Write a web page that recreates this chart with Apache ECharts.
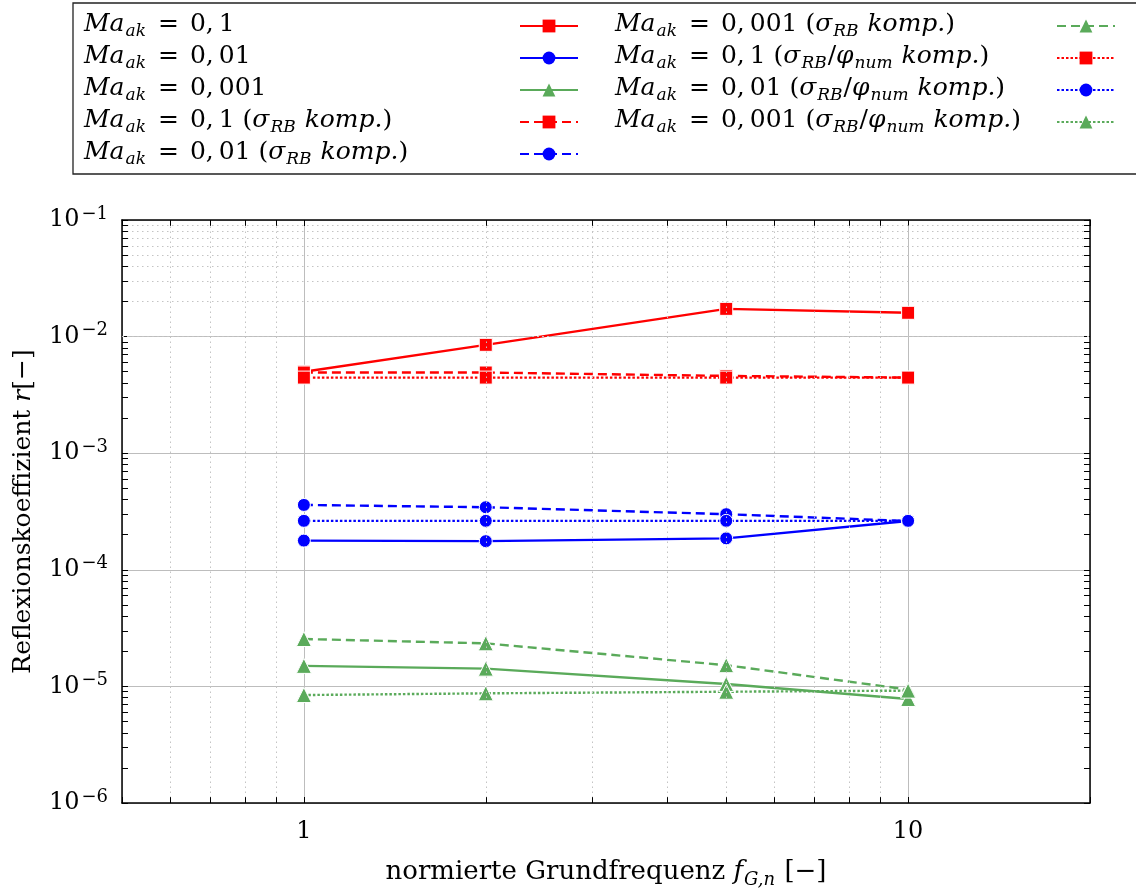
<!DOCTYPE html>
<html><head><meta charset="utf-8">
<script src="https://cdn.jsdelivr.net/npm/echarts@6/dist/echarts.min.js"></script>
<style>html,body{margin:0;padding:0;background:#fff}#c{width:1136px;height:894px}</style>
</head><body><div id="c"></div>
<script>
// ---- data ----
const xVals = [1, 2, 5, 10];
const ma01 = [5.0e-3, 8.5e-3, 1.73e-2, 1.6e-2];
const ma001 = [1.78e-4, 1.76e-4, 1.86e-4, 2.62e-4];
const ma0001 = [1.5e-5, 1.42e-5, 1.05e-5, 7.8e-6];
const ma01RB = [4.92e-3, 4.92e-3, 4.6e-3, 4.45e-3];
const ma001RB = [3.6e-4, 3.44e-4, 3.0e-4, 2.62e-4];
const ma0001RB = [2.55e-5, 2.34e-5, 1.52e-5, 9.4e-6];
const ma01Phi = [4.45e-3, 4.45e-3, 4.45e-3, 4.45e-3];
const ma001Phi = [2.63e-4, 2.63e-4, 2.63e-4, 2.63e-4];
const ma0001Phi = [8.43e-6, 8.72e-6, 9.0e-6, 9.2e-6];
const seriesNames = [
  'Ma_ak = 0,1', 'Ma_ak = 0,01', 'Ma_ak = 0,001',
  'Ma_ak = 0,1 (σRB komp.)', 'Ma_ak = 0,01 (σRB komp.)', 'Ma_ak = 0,001 (σRB komp.)',
  'Ma_ak = 0,1 (σRB/φnum komp.)', 'Ma_ak = 0,01 (σRB/φnum komp.)', 'Ma_ak = 0,001 (σRB/φnum komp.)'
];
const xMinorVals = [0.6, 0.7, 0.8, 0.9, 2, 3, 4, 5, 6, 7, 8, 9];
const yDecades = [-6, -5, -4, -3, -2];
const yMinorMult = [2, 3, 4, 5, 6, 7, 8, 9];
const xMin = 0.5, xMax = 20, yMin = 1e-6, yMax = 1e-1;

// ---- styling ----
const FF = 'DejaVu Serif';
const FS = 25, FSS = 17;
const RED = '#ff0000', BLUE = '#0000ff', GREEN = '#5aaa5a';
const dashed = [9, 5], dotted = [2.5, 2];
const allData = [ma01, ma001, ma0001, ma01RB, ma001RB, ma0001RB, ma01Phi, ma001Phi, ma0001Phi];
const colors = [RED, BLUE, GREEN, RED, BLUE, GREEN, RED, BLUE, GREEN];
const symbols = ['rect', 'circle', 'triangle', 'rect', 'circle', 'triangle', 'rect', 'circle', 'triangle'];
const symSizes = [13, 13, 15, 13, 13, 15, 13, 13, 15];
const lineTypes = ['solid', 'solid', 'solid', dashed, dashed, dashed, dotted, dotted, dotted];

const maPart = ['0,\u20091', '0,\u200901', '0,\u2009001'];
function richName(i) {
  const g = i % 3, k = Math.floor(i / 3);
  let s = '{it|Ma}{sub|ak}{eq|=}{n|' + maPart[g] + '}';
  if (k === 1) s += '{n| (}{it|σ}{sub|RB}{it| komp.}{n|)}';
  if (k === 2) s += '{n| (}{it|σ}{sub|RB}{n|/}{it|φ}{sub|num}{it| komp.}{n|)}';
  return s;
}
const nameMap = {};
seriesNames.forEach((n, i) => nameMap[n] = richName(i));

const richLegend = {
  n: { fontFamily: FF, fontSize: FS, align: 'left', verticalAlign: 'top', color: '#000' },
  eq: { fontFamily: FF, fontSize: FS, align: 'left', verticalAlign: 'top', color: '#000', padding: [0, 11, 0, 11] },
  it: { fontFamily: FF, fontSize: FS, fontStyle: 'italic', align: 'left', verticalAlign: 'top', color: '#000' },
  sub: { fontFamily: FF, fontSize: FSS, fontStyle: 'italic', align: 'left', verticalAlign: 'top', padding: [11, 1, 0, 1], color: '#000' }
};

const series = allData.map((d, i) => ({
  name: seriesNames[i],
  type: 'line',
  data: xVals.map((x, j) => [x, d[j]]),
  symbol: symbols[i],
  symbolSize: symSizes[i],
  color: colors[i],
  lineStyle: { color: colors[i], width: 2.4, type: lineTypes[i] },
  itemStyle: { color: colors[i], borderColor: '#fff', borderWidth: 1 },
  emphasis: { disabled: true },
  z: 3
}));

// minor grid lines
const gridLines = [];
xMinorVals.forEach(v => gridLines.push({ xAxis: v }));
yDecades.forEach(e => yMinorMult.forEach(m => gridLines.push({ yAxis: m * Math.pow(10, e) })));
series.push({
  type: 'line', data: [], z: 1, silent: true, symbol: 'none',
  markLine: {
    silent: true, symbol: ['none', 'none'], label: { show: false }, animation: false,
    emphasis: { disabled: true },
    lineStyle: { color: '#c4c4c4', type: [1.5, 3.5], width: 1 },
    data: gridLines
  }
});
// minor ticks on all four sides
const tickLen = 0.05, xTickLen = 6 / 604;
const ticks = [];
xMinorVals.forEach(v => {
  ticks.push([{ coord: [v, yMin] }, { coord: [v, yMin * Math.pow(10, tickLen)] }]);
  ticks.push([{ coord: [v, yMax] }, { coord: [v, yMax / Math.pow(10, tickLen)] }]);
});
yDecades.forEach(e => yMinorMult.forEach(m => {
  const v = m * Math.pow(10, e);
  ticks.push([{ coord: [xMin, v] }, { coord: [xMin * Math.pow(10, xTickLen), v] }]);
  ticks.push([{ coord: [xMax, v] }, { coord: [xMax / Math.pow(10, xTickLen), v] }]);
}));
series.push({
  type: 'line', data: [], z: 4, silent: true, symbol: 'none',
  markLine: {
    silent: true, symbol: ['none', 'none'], label: { show: false }, animation: false,
    emphasis: { disabled: true },
    lineStyle: { color: '#000', type: 'solid', width: 1 },
    data: ticks
  }
});

const axisCommonX = {
  type: 'log', logBase: 10, min: xMin, max: xMax,
  axisLine: { show: true, lineStyle: { color: '#000', width: 1.5 } },
  axisTick: { show: true, inside: true, length: 6, lineStyle: { color: '#000', width: 1 } }
};
const axisCommonY = {
  type: 'log', logBase: 10, min: yMin, max: yMax,
  axisLine: { show: true, lineStyle: { color: '#000', width: 1.5 } },
  axisTick: { show: true, inside: true, length: 6, lineStyle: { color: '#000', width: 1 } }
};
function isDecade(v) { const l = Math.log10(v); return Math.abs(l - Math.round(l)) < 1e-6; }

const option = {
  animation: false,
  backgroundColor: '#fff',
  grid: { left: 122, width: 968, top: 220, height: 590, containLabel: false },
  graphic: [{
    type: 'rect', shape: { x: 73, y: 3, width: 1080, height: 171 },
    style: { fill: 'none', stroke: '#222', lineWidth: 1.3 }, silent: true, z: 10
  }],
  legend: [{
    orient: 'vertical', left: 84, top: 12, padding: 0, itemGap: 4,
    align: 'right', itemWidth: 58, itemHeight: 16, selectedMode: false,
    data: seriesNames.slice(0, 5),
    formatter: n => nameMap[n],
    itemStyle: { borderWidth: 0 },
    textStyle: { width: 431, rich: richLegend }
  }, {
    orient: 'vertical', left: 615, top: 12, padding: 0, itemGap: 4,
    align: 'right', itemWidth: 58, itemHeight: 16, selectedMode: false,
    data: seriesNames.slice(5),
    formatter: n => nameMap[n],
    itemStyle: { borderWidth: 0 },
    textStyle: { width: 437, rich: richLegend }
  }],
  xAxis: [Object.assign({}, axisCommonX, {
    position: 'bottom',
    axisLabel: {
      fontFamily: FF, fontSize: 24, color: '#000', margin: 17,
      formatter: v => isDecade(v) ? String(Math.round(v)) : ''
    },
    splitLine: { show: true, lineStyle: { color: '#bdbdbd', width: 1 } },
    name: '{n|normierte Grundfrequenz }{it|f}{sub|G,n}{n| [−]}',
    nameLocation: 'middle', nameGap: 56,
    nameTextStyle: {
      fontFamily: FF, fontSize: 26, color: '#000',
      rich: {
        n: { fontFamily: FF, fontSize: 26, verticalAlign: 'top' },
        it: { fontFamily: FF, fontSize: 26, fontStyle: 'italic', verticalAlign: 'top' },
        sub: { fontFamily: FF, fontSize: 18, fontStyle: 'italic', verticalAlign: 'top', padding: [12, 1, 0, 1] }
      }
    }
  }), Object.assign({}, axisCommonX, {
    position: 'top', axisLabel: { show: false }, splitLine: { show: false }
  })],
  yAxis: [Object.assign({}, axisCommonY, {
    position: 'left', interval: 1,
    axisLabel: {
      fontFamily: FF, fontSize: 24, color: '#000', margin: 14,
      formatter: v => isDecade(v) ? '10{sup|−' + Math.abs(Math.round(Math.log10(v))) + '}' : '',
      rich: {
        sup: { fontFamily: FF, fontSize: 18, color: '#000', verticalAlign: 'bottom', padding: [0, 0, 12, 2] }
      }
    },
    splitLine: { show: true, lineStyle: { color: '#bdbdbd', width: 1 } },
    name: 'Reflexionskoeffizient {it|r}[−]',
    nameLocation: 'middle', nameGap: 86,
    nameTextStyle: {
      fontFamily: FF, fontSize: 25, color: '#000',
      rich: { it: { fontFamily: FF, fontSize: 25, fontStyle: 'italic' } }
    }
  }), Object.assign({}, axisCommonY, {
    position: 'right', interval: 1, axisLabel: { show: false }, splitLine: { show: false }
  })],
  series: series
};
const chart = echarts.init(document.getElementById('c'), null, { renderer: 'canvas' });
chart.setOption(option);
</script></body></html>
